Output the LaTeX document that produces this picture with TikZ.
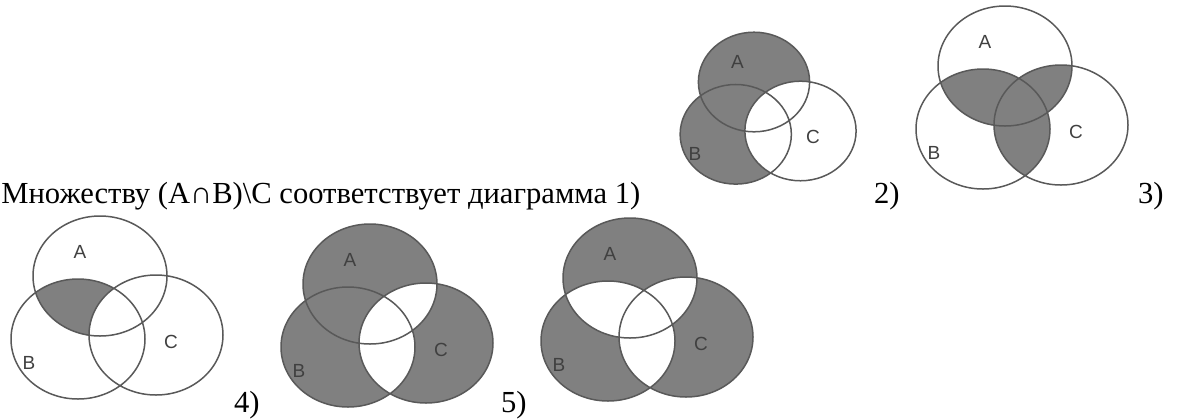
\documentclass[tikz,border=0pt]{standalone}
\usepackage{fontspec}
\setmainfont{Liberation Serif}
\newfontfamily\lblfont{Liberation Sans}
\begin{document}
\begin{tikzpicture}[x=0.5pt, y=-0.5pt, line join=round, line cap=round,
	ring/.style={draw=black!65, line width=0.75pt},
	shade/.style={fill=black!50},
	blank/.style={fill=white},
	lbl/.style={font=\lblfont\fontsize{9.5}{9.5}\selectfont, text=black!75, inner sep=0pt},
	num/.style={font=\fontsize{15.3}{18}\selectfont, inner sep=0pt, anchor=base east}]
	\def\setA{(0,0) ellipse [x radius=67, y radius=60]}
	\def\setB{(-22,63) ellipse [x radius=67, y radius=60]}
	\def\setC{(56,59) ellipse [x radius=67, y radius=60]}
	\useasboundingbox (0,0) rectangle (1178,419);
	% 1) (A u B) \ C
	\begin{scope}[shift={(754,82)}, scale=0.83]
		\fill[shade] \setA \setB;
		\fill[blank] \setC;
		\draw[ring] \setA \setB \setC;
		\node[lbl] (a1) at (-20,-24) {A};
		\node[lbl] (b1) at (-71,87) {B};
		\node[lbl] (c1) at (71,66) {C};
	\end{scope}
	% 2) pairwise intersections
	\begin{scope}[shift={(1005,66)}]
		\begin{scope} \clip \setA; \fill[shade] \setB \setC; \end{scope}
		\begin{scope} \clip \setB; \fill[shade] \setC; \end{scope}
		\draw[ring] \setA \setB \setC;
		\node[lbl] (a2) at (-20,-24) {A};
		\node[lbl] (b2) at (-71,87) {B};
		\node[lbl] (c2) at (71,66) {C};
	\end{scope}
	% 3) (A n B) \ C
	\begin{scope}[shift={(100,276)}]
		\begin{scope} \clip \setA; \fill[shade] \setB; \end{scope}
		\fill[blank] \setC;
		\draw[ring] \setA \setB \setC;
		\node[lbl] (a3) at (-20,-24) {A};
		\node[lbl] (b3) at (-71,87) {B};
		\node[lbl] (c3) at (71,66) {C};
	\end{scope}
	% 4) (A u B) xor C
	\begin{scope}[shift={(370,284)}]
		\fill[shade] \setA \setB \setC;
		\begin{scope} \clip \setC; \fill[blank] \setA \setB; \end{scope}
		\draw[ring] \setA \setB \setC;
		\node[lbl] (a4) at (-20,-24) {A};
		\node[lbl] (b4) at (-71,87) {B};
		\node[lbl] (c4) at (71,66) {C};
	\end{scope}
	% 5) exactly one set
	\begin{scope}[shift={(630,278)}]
		\fill[shade] \setA \setB \setC;
		\begin{scope} \clip \setA; \fill[blank] \setB \setC; \end{scope}
		\begin{scope} \clip \setB; \fill[blank] \setC; \end{scope}
		\draw[ring] \setA \setB \setC;
		\node[lbl] (a5) at (-20,-24) {A};
		\node[lbl] (b5) at (-71,87) {B};
		\node[lbl] (c5) at (71,66) {C};
	\end{scope}
	\node[num, anchor=base west] (task) at (1,203) {Множеству (A∩B)\textbackslash C соответствует диаграмма 1)};
	\node[num] (n2) at (900,203) {2)};
	\node[num] (n3) at (1164,203) {3)};
	\node[num] (n4) at (260,412) {4)};
	\node[num] (n5) at (527,412) {5)};
\end{tikzpicture}
\end{document}
